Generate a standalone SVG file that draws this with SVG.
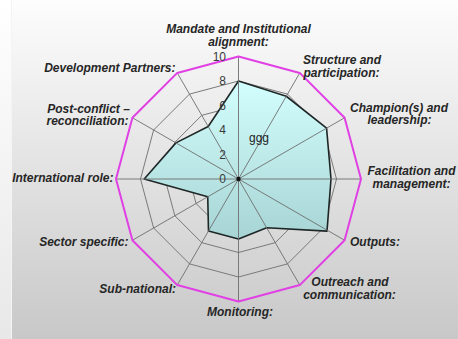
<svg xmlns="http://www.w3.org/2000/svg" width="458" height="339" viewBox="0 0 458 339">
  <defs>
    <linearGradient id="bg" x1="0" y1="0" x2="0" y2="1">
      <stop offset="0" stop-color="#fdfdfd"/>
      <stop offset="1" stop-color="#c8c8c8"/>
    </linearGradient>
    <linearGradient id="strip" x1="0" y1="0" x2="0" y2="1">
      <stop offset="0" stop-color="#ffffff"/>
      <stop offset="1" stop-color="#e8e8e8"/>
    </linearGradient>
    <linearGradient id="fill" gradientUnits="userSpaceOnUse" x1="0" y1="-100" x2="0" y2="62">
      <stop offset="0" stop-color="#d4ffff"/>
      <stop offset="1" stop-color="#a6d3d3"/>
    </linearGradient>
  </defs>
  <style>
    .ring { fill: none; stroke: #7a7a7a; stroke-width: 1; }
    .outer { fill: none; stroke: #e040e4; stroke-width: 2; stroke-linejoin: round; }
    .spoke { stroke: #6e6e6e; stroke-width: 0.9; }
    .series { fill: url(#fill); stroke: #1e2626; stroke-width: 1.6; stroke-linejoin: round; }
    .num { font-family: "Liberation Sans", Arial, sans-serif; font-size: 12px; fill: #3a3a3a; text-anchor: end; }
    .lbl { font-family: "Liberation Sans", Arial, sans-serif; font-size: 12px; font-weight: bold; font-style: italic; fill: #262626; }
    .c { text-anchor: middle; }
    .e { text-anchor: end; }
  </style>

  <g id="background">
    <rect x="0" y="0" width="458" height="339" fill="url(#strip)"/>
    <rect x="11" y="0" width="447" height="339" fill="url(#bg)"/>
    <line x1="11.5" y1="0" x2="11.5" y2="339" stroke="#f4f4f4" stroke-width="1"/>
  </g>

  <g id="chart" transform="translate(238.5,179)">
    <g id="grid">
      <polygon class="ring" points="0,-24.5 12.25,-21.22 21.22,-12.25 24.5,0 21.22,12.25 12.25,21.22 0,24.5 -12.25,21.22 -21.22,12.25 -24.5,0 -21.22,-12.25 -12.25,-21.22"/>
      <polygon class="ring" points="0,-49 24.5,-42.44 42.44,-24.5 49,0 42.44,24.5 24.5,42.44 0,49 -24.5,42.44 -42.44,24.5 -49,0 -42.44,-24.5 -24.5,-42.44"/>
      <polygon class="ring" points="0,-73.5 36.75,-63.65 63.65,-36.75 73.5,0 63.65,36.75 36.75,63.65 0,73.5 -36.75,63.65 -63.65,36.75 -73.5,0 -63.65,-36.75 -36.75,-63.65"/>
      <polygon class="ring" points="0,-98 49,-84.87 84.87,-49 98,0 84.87,49 49,84.87 0,98 -49,84.87 -84.87,49 -98,0 -84.87,-49 -49,-84.87"/>
    </g>
    <g id="series-ggg">
      <polygon class="series" points="0,-98 47.78,-82.75 88.07,-50.85 92.5,0 88.5,52.1 28.18,48.8 0,60 -30,51.96 -30.76,17.76 -94.3,0 -62.6,-36.1 -30.3,-52.5"/>
    </g>
    <g id="connectors">
      <line class="spoke" x1="0" y1="0" x2="0" y2="-122.5"/>
      <line class="spoke" x1="0" y1="0" x2="61.25" y2="-106.09"/>
      <line class="spoke" x1="0" y1="0" x2="106.09" y2="-61.25"/>
      <line class="spoke" x1="0" y1="0" x2="122.5" y2="0"/>
      <line class="spoke" x1="0" y1="0" x2="106.09" y2="61.25"/>
      <line class="spoke" x1="0" y1="0" x2="61.25" y2="106.09"/>
      <line class="spoke" x1="0" y1="0" x2="0" y2="122.5"/>
      <line class="spoke" x1="0" y1="0" x2="-61.25" y2="106.09"/>
      <line class="spoke" x1="0" y1="0" x2="-106.09" y2="61.25"/>
      <line class="spoke" x1="0" y1="0" x2="-122.5" y2="0"/>
      <line class="spoke" x1="0" y1="0" x2="-106.09" y2="-61.25"/>
      <line class="spoke" x1="0" y1="0" x2="-61.25" y2="-106.09"/>
    </g>
    <polygon class="outer" points="0,-122.5 61.25,-106.09 106.09,-61.25 122.5,0 106.09,61.25 61.25,106.09 0,122.5 -61.25,106.09 -106.09,61.25 -122.5,0 -106.09,-61.25 -61.25,-106.09"/>
    <circle cx="0" cy="0" r="2.2" fill="#111"/>
  </g>

  <g id="scale">
    <text class="num" x="226" y="183">0</text>
    <text class="num" x="226" y="158.5">2</text>
    <text class="num" x="226" y="134">4</text>
    <text class="num" x="226" y="109.5">6</text>
    <text class="num" x="226" y="85">8</text>
    <text class="num" x="226" y="60.5">10</text>
  </g>

  <g id="series-name">
    <text x="249" y="142" font-family="Liberation Sans, Arial, sans-serif" font-size="12" fill="#222">ggg</text>
  </g>

  <g id="axis-mandate"><text class="lbl c" x="238.5" y="32.5">Mandate and Institutional</text><text class="lbl c" x="238.5" y="45.5">alignment:</text></g>
  <g id="axis-structure"><text class="lbl c" x="342" y="64">Structure and</text><text class="lbl c" x="341.5" y="77">participation:</text></g>
  <g id="axis-champion"><text class="lbl c" x="399" y="111.5">Champion(s) and</text><text class="lbl c" x="399.5" y="124">leadership:</text></g>
  <g id="axis-facilitation"><text class="lbl c" x="411.5" y="174.5">Facilitation and</text><text class="lbl c" x="411.5" y="188">management:</text></g>
  <g id="axis-outputs"><text class="lbl" x="350" y="245.5">Outputs:</text></g>
  <g id="axis-outreach"><text class="lbl c" x="350" y="286">Outreach and</text><text class="lbl c" x="349.5" y="299">communication:</text></g>
  <g id="axis-monitoring"><text class="lbl c" x="240" y="316">Monitoring:</text></g>
  <g id="axis-subnational"><text class="lbl e" x="176" y="292.5">Sub-national:</text></g>
  <g id="axis-sector"><text class="lbl e" x="128.5" y="245.5">Sector specific:</text></g>
  <g id="axis-international"><text class="lbl e" x="113.5" y="181.5">International role:</text></g>
  <g id="axis-postconflict"><text class="lbl c" x="88.5" y="112.5">Post-conflict –</text><text class="lbl c" x="87.5" y="125">reconciliation:</text></g>
  <g id="axis-development"><text class="lbl e" x="175.5" y="71.5">Development Partners:</text></g>
</svg>
